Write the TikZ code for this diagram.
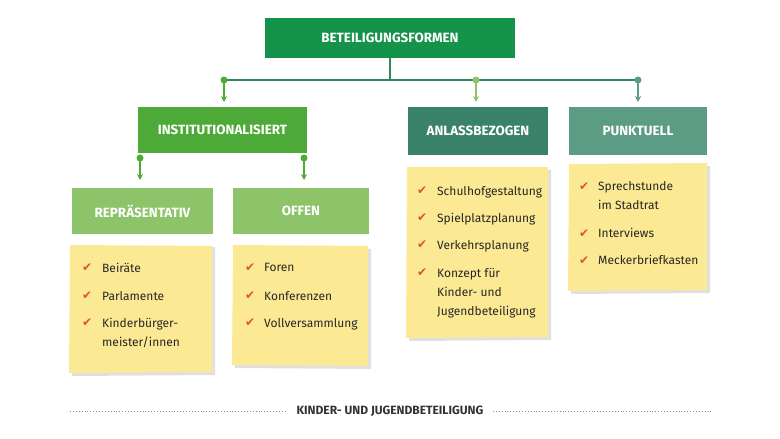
\documentclass[tikz,border=0pt]{standalone}
\usepackage{fontspec}
\setmainfont{Fira Sans}
\newfontfamily\symf{DejaVu Sans}
\usetikzlibrary{arrows.meta}
\definecolor{dg}{HTML}{16934A}
\definecolor{mg}{HTML}{4DAA38}
\definecolor{lg}{HTML}{8DC46A}
\definecolor{tg}{HTML}{3A826A}
\definecolor{pg}{HTML}{5C9C84}
\definecolor{note}{HTML}{FCE993}
\definecolor{chk}{HTML}{E0522A}
\definecolor{ln}{HTML}{2E8A5E}
\begin{document}
\begin{tikzpicture}[x=1pt,y=-1pt,
 box/.style={draw=none,fill=#1,text=white,font=\fontsize{13.4}{15}\selectfont\bfseries,inner sep=0pt},
 it/.style={anchor=north west,font=\fontsize{12}{19}\selectfont,text=black!85,align=left,inner sep=0pt},
 ck/.style={anchor=north west,font=\symf\bfseries\fontsize{12}{14}\selectfont,text=chk,inner sep=0pt},
 con/.style={draw=#1,line width=1.2pt,-{Stealth[length=6pt,width=6pt]}},
 dot/.style={circle,fill=#1,inner sep=0pt,minimum size=7pt}]
\useasboundingbox (0,0) rectangle (780,439);
% boxes
\node[box=dg,minimum width=250,minimum height=40] (top) at (390,38) {BETEILIGUNGSFORMEN};
\node[box=mg,minimum width=169,minimum height=46] (inst) at (222.5,130) {INSTITUTIONALISIERT};
\node[box=lg,minimum width=141,minimum height=46] (rep) at (142.5,211) {REPRÄSENTATIV};
\node[box=lg,minimum width=136,minimum height=46] (off) at (301,211) {OFFEN};
\node[box=tg,minimum width=140,minimum height=48] (anl) at (478,131) {ANLASSBEZOGEN};
\node[box=pg,minimum width=138,minimum height=48] (pun) at (638,131) {PUNKTUELL};
% notes
\fill[black!12] (73,248) -- (215,247) -- (215,375) -- (72,376) -- cycle;
\fill[note] (70,245) -- (212,246) -- (212,372) -- (69,373) -- cycle;
\fill[black!12] (236,248) -- (371,249) -- (371,369) -- (235,368) -- cycle;
\fill[note] (233,245) -- (368,246) -- (368,366) -- (232,365) -- cycle;
\fill[black!12] (410,170) -- (551,170) -- (551,340) -- (409,341) -- cycle;
\fill[note] (407,167) -- (548,167) -- (548,337) -- (406,338) -- cycle;
\fill[black!12] (572,167) -- (710,166) -- (710,293) -- (571,294) -- cycle;
\fill[note] (569,164) -- (707,163) -- (707,290) -- (568,291) -- cycle;
% connectors
\coordinate (j) at (390,80);
\coordinate (a1) at (224,80);\coordinate (a2) at (476,80);\coordinate (a3) at (638,80);
\draw[ln,line width=1.5pt] (top.south) -- (j);
\draw[ln,line width=1.5pt] (a1) -- (a3);
\draw[con=mg] (a1) -- (224,102);
\draw[con=lg] (a2) -- (476,102);
\draw[con=pg] (a3) -- (638,102);
\node[dot=mg] at (a1) {};\node[dot=lg] at (a2) {};\node[dot=pg] at (a3) {};
\coordinate (b1) at (140,158);\coordinate (b2) at (304,158);
\draw[con=mg] (b1) -- (140,180);
\draw[con=mg] (b2) -- (304,180);
\node[dot=mg] at (b1) {};\node[dot=mg] at (b2) {};
% items
\foreach \y/\t in {263/Beiräte,291/Parlamente,318/{Kinderbürger-\\meister/innen}}{
 \node[ck] at (82,\y+1) {✔}; \node[it] at (102,\y) {\t};}
\foreach \y/\t in {263/Foren,291/Konferenzen,318/Vollversammlung}{
 \node[ck] at (245,\y+1) {✔}; \node[it] at (264,\y) {\t};}
\foreach \y/\t in {186/Schulhofgestaltung,213/Spielplatzplanung,240/Verkehrsplanung,268/{Konzept für\\Kinder- und\\Jugendbeteiligung}}{
 \node[ck] at (417,\y+1) {✔}; \node[it] at (437,\y) {\t};}
\foreach \y/\t in {181/{Sprechstunde\\im Stadtrat},228/Interviews,255/Meckerbriefkasten}{
 \node[ck] at (579,\y+2) {✔}; \node[it] at (598,\y) {\t};}
% footer
\node[font=\fontsize{12}{14}\selectfont\bfseries,text=black!80] (ft) at (390,411) {KINDER- UND JUGENDBETEILIGUNG};
\coordinate (l1) at (70,411);\coordinate (l2) at (712,411);
\draw[black!45,line width=0.9pt,dotted] (l1) -- ([xshift=-6pt]ft.west);
\draw[black!45,line width=0.9pt,dotted] ([xshift=6pt]ft.east) -- (l2);
\end{tikzpicture}
\end{document}
